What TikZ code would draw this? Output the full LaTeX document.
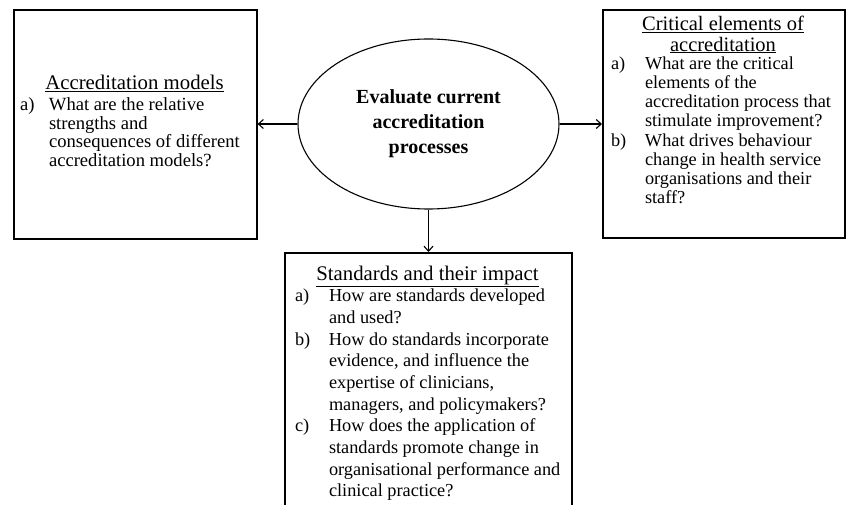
\documentclass[tikz,border=0pt]{standalone}
\usepackage{fontspec}
\setmainfont{Liberation Serif}
\usetikzlibrary{shapes.geometric,arrows.meta}
\newcommand{\lbl}[2]{\makebox[#1][l]{#2}}
\begin{document}
\begin{tikzpicture}[x=1pt,y=-1pt,
  box/.style={draw,line width=1.6pt,rectangle,inner sep=0pt,anchor=north west},
  txt/.style={inner sep=0pt,outer sep=0pt},
  arr/.style={line width=1.1pt,-{Straight Barb[length=5pt,width=9pt]}}]
\clip (0,0) rectangle (849,505);
\fill[white] (0,0) rectangle (849,505);

% boxes
\node[box,minimum width=243pt,minimum height=229pt] (models) at (13,9) {};
\node[box,minimum width=242pt,minimum height=228pt] (critical) at (602,9) {};
\node[box,minimum width=287pt,minimum height=300pt] (standards) at (284,252) {};

% central ellipse
\node[draw,ellipse,line width=1.1pt,minimum width=261pt,minimum height=170pt,
  inner sep=0pt,align=center,font=\bfseries\fontsize{20}{25}\selectfont]
  (eval) at (428.5,124) {Evaluate current\\accreditation\\processes};

% connectors
\draw[arr] (eval.west) -- (eval.west -| models.east);
\draw[arr] (eval.east) -- (eval.east -| critical.west);
\draw[arr] (eval.south) -- (eval.south |- standards.north);

% left box text
\node[txt,anchor=base] (mtitle) at (134.5,90)
  {\fontsize{20.8}{20.8}\selectfont\underline{Accreditation models}};
\node[txt,anchor=base west] (mlist) at (20,111)
  {\fontsize{18.6}{18.3}\selectfont
   \begin{tabular}[t]{@{}l@{}l@{}}
   \lbl{29pt}{a)} & What are the relative\\
   & strengths and\\
   & consequences of different\\
   & accreditation models?
   \end{tabular}};

% right box text
\node[txt,anchor=base] (ctitle) at (723,31)
  {\fontsize{20.5}{19.4}\selectfont
   \begin{tabular}[t]{@{}c@{}}
   \underline{Critical elements of}\\
   \underline{accreditation}
   \end{tabular}};
\node[txt,anchor=base west] (clist) at (611,69.4)
  {\fontsize{18.3}{19.2}\selectfont
   \begin{tabular}[t]{@{}l@{}l@{}}
   \lbl{34pt}{a)} & What are the critical\\
   & elements of the\\
   & accreditation process that\\
   & stimulate improvement?\\
   b) & What drives behaviour\\
   & change in health service\\
   & organisations and their\\
   & staff?
   \end{tabular}};

% bottom box text
\node[txt,anchor=base] (stitle) at (427.5,280)
  {\fontsize{20.8}{21.7}\selectfont\underline{Standards and their impact}};
\node[txt,anchor=base west] (slist) at (295,301.7)
  {\fontsize{18.3}{21.7}\selectfont
   \begin{tabular}[t]{@{}l@{}l@{}}
   \lbl{34pt}{a)} & How are standards developed\\
   & and used?\\
   b) & How do standards incorporate\\
   & evidence, and influence the\\
   & expertise of clinicians,\\
   & managers, and policymakers?\\
   c) & How does the application of\\
   & standards promote change in\\
   & organisational performance and\\
   & clinical practice?
   \end{tabular}};
\end{tikzpicture}
\end{document}
